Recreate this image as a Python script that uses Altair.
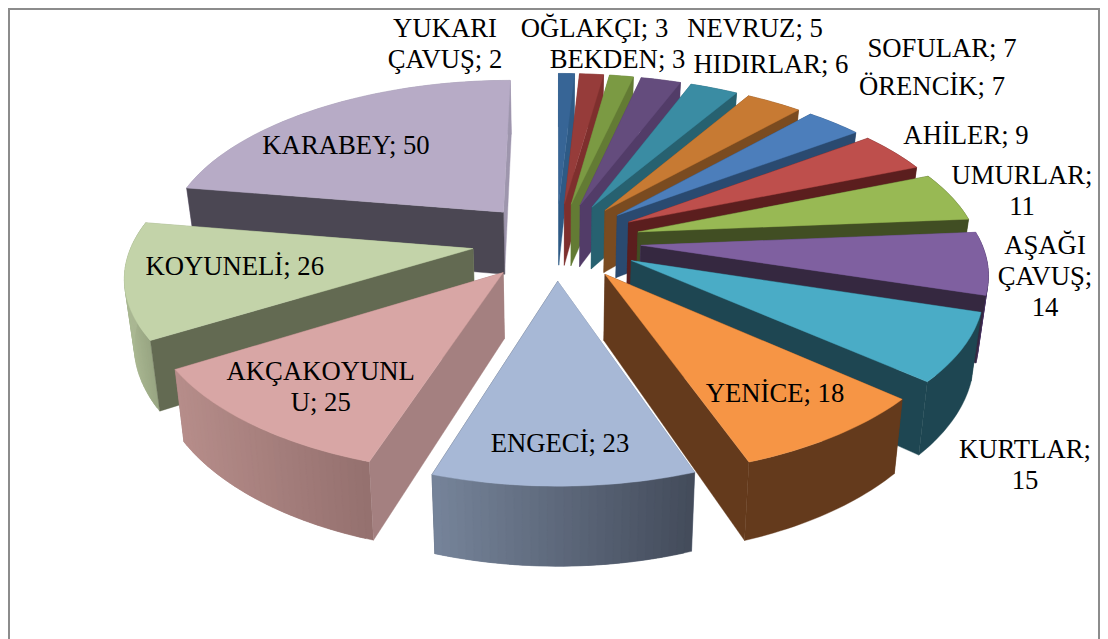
import math
import altair as alt
import pandas as pd

names = ["YUKARI ÇAVUŞ", "OĞLAKÇI", "BEKDEN", "NEVRUZ", "HIDIRLAR", "SOFULAR", "ÖRENCİK", "AHİLER",
         "UMURLAR", "AŞAĞI ÇAVUŞ", "KURTLAR", "YENİCE", "ENGECİ", "AKÇAKOYUNLU", "KOYUNELİ", "KARABEY"]
values = [2, 3, 3, 5, 6, 7, 7, 9, 11, 14, 15, 18, 23, 25, 26, 50]
top_colors = ["#376596", "#963C3A", "#7B9A43", "#644C7D", "#3A8CA3", "#C77A33", "#4C7EBB", "#BE4F4C",
              "#98B954", "#7F60A0", "#4AACC6", "#F69545", "#A7B8D6", "#D8A6A5", "#C3D3A9", "#B7ABC6"]
cut_colors = ["#2E5A85", "#7E2F2D", "#637B34", "#523C68", "#276170", "#7A4B20", "#2A4A70", "#5B1E1E",
              "#414E23", "#352840", "#1E4652", "#643A1C", "#5A6578", "#A48080", "#636A52", "#4B4753"]
rim_left = ["#2E5A85", "#7E2F2D", "#637B34", "#523C68", "#276170", "#7A4B20", "#2A4A70", "#5B1E1E",
            "#414E23", "#5C4580", "#1E4652", "#643A1C", "#76849A", "#B68D8A", "#AAB893", "#9E96AD"]
rim_right = ["#2E5A85", "#7E2F2D", "#637B34", "#523C68", "#276170", "#7A4B20", "#2A4A70", "#5B1E1E",
             "#414E23", "#4A3566", "#1E4652", "#643A1C", "#434B5A", "#94706E", "#98A582", "#9E96AD"]

label_text = ["YUKARI\nÇAVUŞ; 2", "OĞLAKÇI; 3", "BEKDEN; 3", "NEVRUZ; 5", "HIDIRLAR; 6", "SOFULAR; 7", "ÖRENCİK; 7",
              "AHİLER; 9", "UMURLAR;\n11", "AŞAĞI\nÇAVUŞ;\n14", "KURTLAR;\n15", "YENİCE; 18", "ENGECİ; 23",
              "AKÇAKOYUNL\nU; 25", "KOYUNELİ; 26", "KARABEY; 50"]
label_x = [445, 594.5, 617.5, 755, 771, 942, 932, 966, 1022, 1045, 1025, 775, 560, 320.7, 234.7, 346]
label_y = [37, 37, 68, 37, 73, 57, 95, 144, 184, 254, 458, 402, 452, 380, 275, 154]

CX, CY, A, B, E, KX, KY, Q = 556.5, 241.0, 340.0, 156.0, 0.2485, 0.15, 0.19, 6.5


def project(u, v, floor=False):
    x = A * u / (1 - KX * v)
    y = CY + B * v / (1 - KY * v) - Q * v * v
    if floor:
        x *= 0.977
        y += 64 / (1 - 0.16 * v)
    return CX + x, y


def hex_mix(c1, c2, t):
    a = [int(c1[i:i + 2], 16) for i in (1, 3, 5)]
    b = [int(c2[i:i + 2], 16) for i in (1, 3, 5)]
    return "#" + "".join(f"{round(p + (q - p) * t):02x}" for p, q in zip(a, b))


rows = []
poly_id = [0]


def add_polygon(points, color):
    pid = poly_id[0]
    poly_id[0] += 1
    for i, (x, y) in enumerate(points + points[:1]):
        rows.append({"x": x, "y": y, "i": i, "poly": pid, "c": color})


def cut_face(ou, ov, edge, color):
    eu, ev = edge
    add_polygon([project(ou, ov), project(eu, ev), project(eu, ev, True), project(ou, ov, True)], color)


total = sum(values)
slices = []
cum = 0
for k, val in enumerate(values):
    a0 = 2 * math.pi * cum / total
    a1 = 2 * math.pi * (cum + val) / total
    cum += val
    slices.append((k, a0, a1))

# painter's order: the back of the pie first
for k, a0, a1 in sorted(slices, key=lambda s: -math.cos((s[1] + s[2]) / 2)):
    mid = (a0 + a1) / 2
    ou, ov = E * math.sin(mid), -E * math.cos(mid)
    n = max(4, int((a1 - a0) / 0.02))
    rim = [(ou + math.sin(a0 + (a1 - a0) * j / n), ov - math.cos(a0 + (a1 - a0) * j / n)) for j in range(n + 1)]
    start_seen = math.sin(a0) < -1e-6
    end_seen = math.sin(a1) > 1e-6
    # faces turned away from the viewer only show as slivers past the rim
    if not start_seen:
        cut_face(ou, ov, rim[0], rim_left[k])
    if not end_seen:
        cut_face(ou, ov, rim[-1], rim_right[k])
    # outer wall: one piece when flat, overlapping strips when shaded
    x_all = [project(u, v)[0] for u, v in rim]
    lo, hi = min(x_all), max(x_all)
    if rim_left[k] == rim_right[k]:
        add_polygon([project(u, v) for u, v in rim] + [project(u, v, True) for u, v in reversed(rim)], rim_left[k])
    else:
        for j in range(n):
            seg = rim[j:j + 3]
            t = ((x_all[j] + x_all[j + 1]) / 2 - lo) / max(hi - lo, 1)
            add_polygon([project(u, v) for u, v in seg] + [project(u, v, True) for u, v in reversed(seg)],
                        hex_mix(rim_left[k], rim_right[k], t))
    # faces turned toward the viewer
    if start_seen:
        cut_face(ou, ov, rim[0], cut_colors[k])
    if end_seen:
        cut_face(ou, ov, rim[-1], cut_colors[k])
    # upper surface
    add_polygon([project(ou, ov)] + [project(u, v) for u, v in rim], top_colors[k])

poly_df = pd.DataFrame(rows)
labels_df = pd.DataFrame({"t": label_text, "x": label_x, "y": label_y})

x_scale = alt.Scale(domain=[8, 1100], range=[0, 1092])
y_scale = alt.Scale(domain=[8, 639], range=[0, 631])

frame = alt.Chart(pd.DataFrame({"x": [9], "x2": [1099], "y": [9], "y2": [700]})).mark_rect(
    fill="white", stroke="#8c8c8c", strokeWidth=2
).encode(
    x=alt.X("x:Q", scale=x_scale, axis=None),
    x2="x2:Q",
    y=alt.Y("y:Q", scale=y_scale, axis=None),
    y2="y2:Q",
)

pie = alt.Chart(poly_df).mark_line(filled=True, strokeWidth=0.4, interpolate="linear").encode(
    x=alt.X("x:Q", scale=x_scale, axis=None),
    y=alt.Y("y:Q", scale=y_scale, axis=None),
    detail="poly:N",
    order="i:Q",
    color=alt.Color("c:N", scale=None),
    stroke=alt.Stroke("c:N", scale=None),
)

text = alt.Chart(labels_df).mark_text(
    font="Liberation Serif", fontSize=26.7, lineHeight=31, lineBreak="\n",
    align="center", baseline="alphabetic", color="#000000"
).encode(
    x=alt.X("x:Q", scale=x_scale, axis=None),
    y=alt.Y("y:Q", scale=y_scale, axis=None),
    text="t:N",
)

chart = alt.layer(frame, pie, text).properties(
    width=1092, height=631, padding=0, background="white",
    autosize=alt.AutoSizeParams(type="none")
).configure_view(stroke=None)

chart.save("out.html", embed_options={"renderer": "svg", "actions": False})
